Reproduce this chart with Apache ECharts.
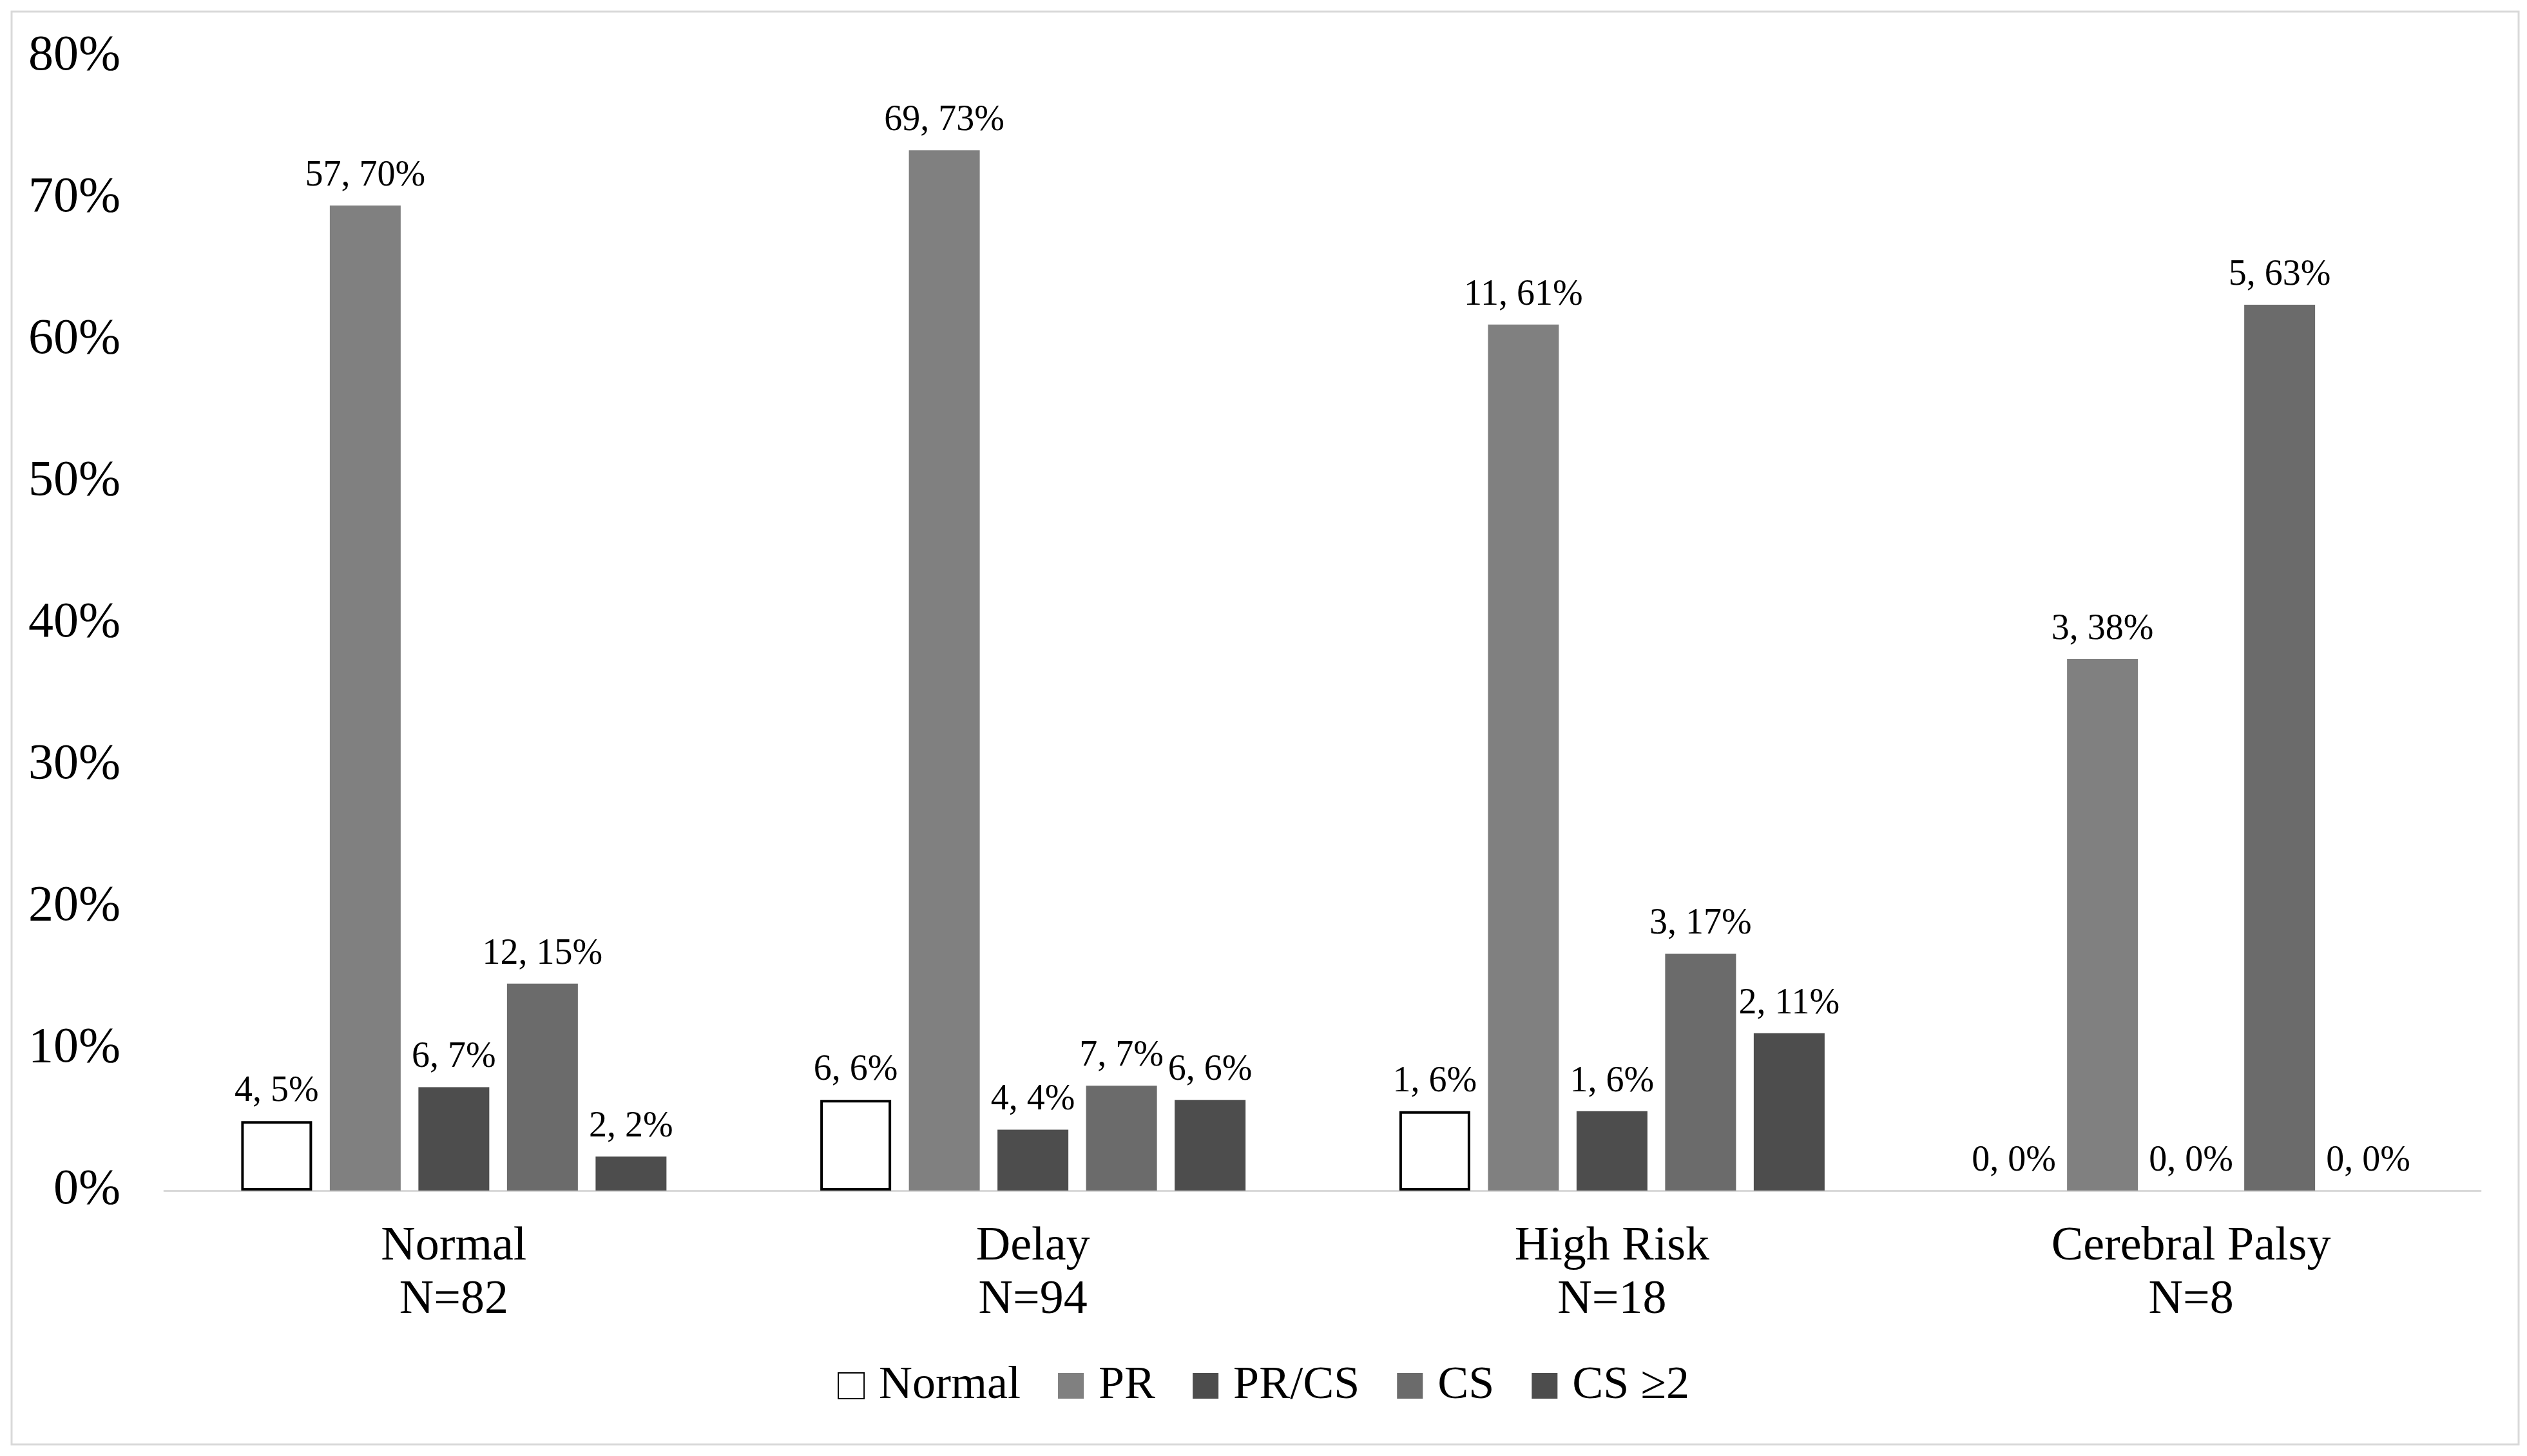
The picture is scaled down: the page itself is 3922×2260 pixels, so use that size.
<!DOCTYPE html>
<html>
<head>
<meta charset="utf-8">
<script src="https://cdn.jsdelivr.net/npm/echarts@6/dist/echarts.min.js"></script>
<style>
html,body{margin:0;padding:0;background:#fff;}
#c{width:3922px;height:2260px;}
</style>
</head>
<body>
<div id="c"></div>
<script>
// ---- data ----
const categories = ['Normal\nN=82', 'Delay\nN=94', 'High Risk\nN=18', 'Cerebral Palsy\nN=8'];
const seriesNames = ['Normal', 'PR', 'PR/CS', 'CS', 'CS \u22652'];
// percent values (bar heights)
const normalPct = [4.9, 6.4, 5.6, 0];
const prPct     = [69.5, 73.4, 61.1, 37.5];
const prcsPct   = [7.3, 4.3, 5.6, 0];
const csPct     = [14.6, 7.4, 16.7, 62.5];
const cs2Pct    = [2.4, 6.4, 11.1, 0];
// counts shown in labels
const normalN = [4, 6, 1, 0];
const prN     = [57, 69, 11, 3];
const prcsN   = [6, 4, 1, 0];
const csN     = [12, 7, 3, 5];
const cs2N    = [2, 6, 2, 0];
// rounded percents shown in labels
const normalLbl = [5, 6, 6, 0];
const prLbl     = [70, 73, 61, 38];
const prcsLbl   = [7, 4, 6, 0];
const csLbl     = [15, 7, 17, 63];
const cs2Lbl    = [2, 6, 11, 0];
const yTicks = [0, 10, 20, 30, 40, 50, 60, 70, 80];

const pctSets = [normalPct, prPct, prcsPct, csPct, cs2Pct];
const nSets = [normalN, prN, prcsN, csN, cs2N];
const lblSets = [normalLbl, prLbl, prcsLbl, csLbl, cs2Lbl];
const colors = ['#ffffff', '#808080', '#4d4d4d', '#6b6b6b', '#4d4d4d'];

const FONT = '"Liberation Serif", "Times New Roman", serif';

const series = seriesNames.map((name, si) => ({
  name: name,
  type: 'bar',
  barWidth: 110,
  barGap: '25%',
  itemStyle: si === 0
    ? { color: '#ffffff', borderColor: '#000000', borderWidth: 4 }
    : { color: colors[si] },
  data: pctSets[si].map((v, i) => {
    const d = { value: v };
    if (si === 0 && v === 0) d.itemStyle = { borderWidth: 0 };
    return d;
  }),
  label: {
    show: true,
    position: 'top',
    distance: 18,
    fontFamily: FONT,
    fontSize: 56,
    color: '#000',
    formatter: p => nSets[si][p.dataIndex] + ', ' + lblSets[si][p.dataIndex] + '%'
  }
}));

const chart = echarts.init(document.getElementById('c'), null, { renderer: 'canvas' });
chart.setOption({
  backgroundColor: '#ffffff',
  animation: false,
  textStyle: { fontFamily: FONT },
  graphic: [{
    type: 'rect',
    shape: { x: 18, y: 18, width: 3891, height: 2224 },
    style: { fill: 'none', stroke: '#d9d9d9', lineWidth: 3 },
    silent: true,
    z: -1
  }],
  grid: { left: 255, right: 72, top: 88, bottom: 412, containLabel: false },
  legend: {
    data: seriesNames,
    left: 'center',
    top: 2110,
    icon: 'rect',
    itemWidth: 40,
    itemHeight: 40,
    itemGap: 58,
    formatter: n => ' ' + n,
    textStyle: { fontFamily: FONT, fontSize: 72, color: '#000' }
  },
  xAxis: {
    type: 'category',
    data: categories,
    axisLine: { lineStyle: { color: '#d9d9d9', width: 3 } },
    axisTick: { show: false },
    axisLabel: {
      fontFamily: FONT, fontSize: 74, color: '#000',
      lineHeight: 83, margin: 46, interval: 0
    }
  },
  yAxis: {
    type: 'value',
    min: yTicks[0],
    max: yTicks[yTicks.length - 1],
    interval: 10,
    axisLine: { show: false },
    axisTick: { show: false },
    splitLine: { show: false },
    axisLabel: {
      fontFamily: FONT, fontSize: 78, color: '#000',
      margin: 68, formatter: '{value}%'
    }
  },
  series: series
});
</script>
</body>
</html>
